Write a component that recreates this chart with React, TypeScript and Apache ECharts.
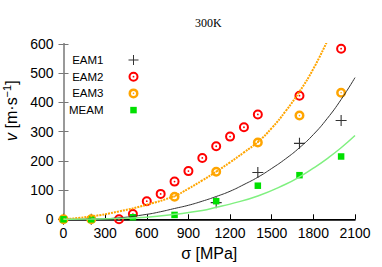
import React, { useEffect, useRef } from "react";
import * as echarts from "echarts";

// Measured points
const sigmaEAM1 = [0, 200, 1100, 1400, 1700, 2000];
const vEAM1 = [0, 0, 57, 160, 260, 338];
const sigmaEAM2 = [400, 500, 600, 700, 800, 900, 1000, 1100, 1200, 1300, 1400, 1700, 2000];
const vEAM2 = [0, 18, 62, 87, 129, 165, 210, 250, 283, 315, 359, 423, 584];
const sigmaEAM3 = [0, 200, 800, 1100, 1400, 1700, 2000];
const vEAM3 = [0, 0, 77, 163, 263, 355, 433];
const sigmaMEAM = [0, 200, 500, 800, 1100, 1400, 1700, 2000];
const vMEAM = [0, 0, 7, 15, 62, 115, 151, 215];

// Fitted curves
const sigmaFit1 = [0, 200, 400, 600, 700, 800, 900, 1000, 1100, 1200, 1300, 1400, 1500, 1600, 1700, 1800, 1900, 2000, 2100];
const vFit1 = [0, 1, 5, 17, 26, 37, 48, 62, 78, 96, 119, 144, 174, 207, 245, 290, 345, 410, 485];
const sigmaFit3 = [0, 200, 400, 600, 800, 900, 1000, 1100, 1200, 1300, 1400, 1500, 1600, 1700, 1800, 1900];
const vFit3 = [0, 10, 27, 50, 80, 105, 133, 163, 195, 229, 265, 312, 370, 437, 515, 610];
const sigmaFitM = [0, 200, 400, 600, 800, 1000, 1100, 1200, 1400, 1600, 1700, 1800, 1900, 2000, 2100];
const vFitM = [0, 1, 3, 7, 17, 30, 41, 52, 80, 120, 145, 175, 208, 245, 287];

const xTicks = { min: 0, max: 2100, interval: 300 };
const yTicks = { min: 0, max: 600, interval: 100 };

const zip = (a: number[], b: number[]) => a.map((x, i) => [x, b[i]]);

const PLUS = "path://M9,0h2v9h9v2h-9v9h-2v-9h-9v-2h9z";
const RING_RED =
  "path://M10,0A10,10,0,1,1,10,20A10,10,0,1,1,10,0ZM10,4A6,6,0,1,0,10,16A6,6,0,1,0,10,4ZM10,8.2A1.8,1.8,0,1,1,10,11.8A1.8,1.8,0,1,1,10,8.2Z";
const RING_ORANGE =
  "path://M10,0A10,10,0,1,1,10,20A10,10,0,1,1,10,0ZM10,5A5,5,0,1,0,10,15A5,5,0,1,0,10,5ZM10,8.4A1.6,1.6,0,1,1,10,11.6A1.6,1.6,0,1,1,10,8.4Z";
const SQUARE = "path://M0,0M20,20M3.5,3.5h13v13h-13z";

const FONT = "Liberation Sans, Arial, sans-serif";
const plain = (v: number) => String(v);

export default function App() {
  const ref = useRef<HTMLDivElement>(null);
  useEffect(() => {
    document.body.style.margin = "0";
    const chart = echarts.init(ref.current!, null, { renderer: "svg" });
    chart.setOption({
      animation: false,
      backgroundColor: "#fff",
      title: {
        text: "300K",
        left: 195,
        top: 17,
        padding: 0,
        textStyle: { fontFamily: "Liberation Serif, Times New Roman, serif", fontSize: 12, fontWeight: "normal", color: "#000" },
      },
      legend: {
        orient: "vertical",
        align: "right",
        left: 69,
        top: 54,
        padding: 0,
        itemWidth: 50,
        itemHeight: 10,
        itemGap: 4.7,
        data: ["EAM1", "EAM2", "EAM3", "MEAM"],
        textStyle: { fontFamily: FONT, fontSize: 11.5, color: "#000", lineHeight: 10 },
      },
      grid: { left: 63.5, right: 27, top: 44, bottom: 47.7, containLabel: false, outerBoundsMode: "none" },
      xAxis: [
        {
          type: "value",
          ...xTicks,
          name: "σ [MPa]",
          nameLocation: "middle",
          nameGap: 26,
          nameTextStyle: { fontFamily: FONT, fontSize: 16, color: "#000" },
          axisLine: { lineStyle: { color: "#000", width: 1.5 } },
          axisTick: { inside: true, length: 5, lineStyle: { color: "#000" } },
          axisLabel: { fontFamily: FONT, fontSize: 14, color: "#000", margin: 7, formatter: plain },
          splitLine: { show: false },
        },
        {
          type: "value",
          ...xTicks,
          position: "top",
          axisLine: { lineStyle: { color: "#000", width: 1 } },
          axisTick: { show: false },
          axisLabel: { show: false },
          splitLine: { show: false },
        },
      ],
      yAxis: [
        {
          type: "value",
          ...yTicks,
          name: "{i|v} [m·s{s|−1}]",
          nameLocation: "middle",
          nameGap: 42,
          nameTextStyle: {
            fontFamily: FONT,
            fontSize: 16,
            color: "#000",
            padding: [0, 0, 0, 42],
            rich: {
              i: { fontFamily: FONT, fontSize: 16, fontStyle: "italic", color: "#000" },
              s: { fontFamily: FONT, fontSize: 11, color: "#000", padding: [0, 0, 8, 0] },
            },
          },
          axisLine: { lineStyle: { color: "#999", width: 2 } },
          axisTick: { inside: true, length: 5, lineStyle: { color: "#777" } },
          axisLabel: { fontFamily: FONT, fontSize: 14, color: "#000", margin: 10, formatter: plain },
          splitLine: { show: false },
        },
        {
          type: "value",
          ...yTicks,
          position: "right",
          axisLine: { lineStyle: { color: "#999", width: 2 } },
          axisTick: { inside: true, length: 5, lineStyle: { color: "#777" } },
          axisLabel: { show: false },
          splitLine: { show: false },
        },
      ],
      series: [
        {
          name: "fit EAM1",
          type: "line",
          data: zip(sigmaFit1, vFit1),
          smooth: true,
          showSymbol: false,
          silent: true,
          lineStyle: { color: "#333", width: 1 },
          itemStyle: { color: "#333" },
        },
        {
          name: "fit EAM3",
          type: "line",
          data: zip(sigmaFit3, vFit3),
          smooth: true,
          showSymbol: false,
          silent: true,
          lineStyle: { color: "#ffa500", width: 2, type: [2, 1] },
          itemStyle: { color: "#ffa500" },
        },
        {
          name: "fit MEAM",
          type: "line",
          data: zip(sigmaFitM, vFitM),
          smooth: true,
          showSymbol: false,
          silent: true,
          lineStyle: { color: "#80f080", width: 1.5 },
          itemStyle: { color: "#80f080" },
        },
        {
          name: "EAM1",
          type: "scatter",
          data: zip(sigmaEAM1, vEAM1),
          symbol: PLUS,
          symbolSize: 11,
          itemStyle: { color: "#333", opacity: 1 },
        },
        {
          name: "EAM2",
          type: "scatter",
          data: zip(sigmaEAM2, vEAM2),
          symbol: RING_RED,
          symbolSize: 10,
          itemStyle: { color: "#f00", opacity: 1 },
        },
        {
          name: "EAM3",
          type: "scatter",
          data: zip(sigmaEAM3, vEAM3),
          symbol: RING_ORANGE,
          symbolSize: 10,
          itemStyle: { color: "#ffa500", opacity: 1 },
        },
        {
          name: "MEAM",
          type: "scatter",
          data: zip(sigmaMEAM, vMEAM),
          symbol: SQUARE,
          symbolSize: 10,
          itemStyle: { color: "#00e000", opacity: 1 },
        },
      ],
    });
    return () => chart.dispose();
  }, []);
  return <div ref={ref} style={{ width: 382, height: 267 }} />;
}
